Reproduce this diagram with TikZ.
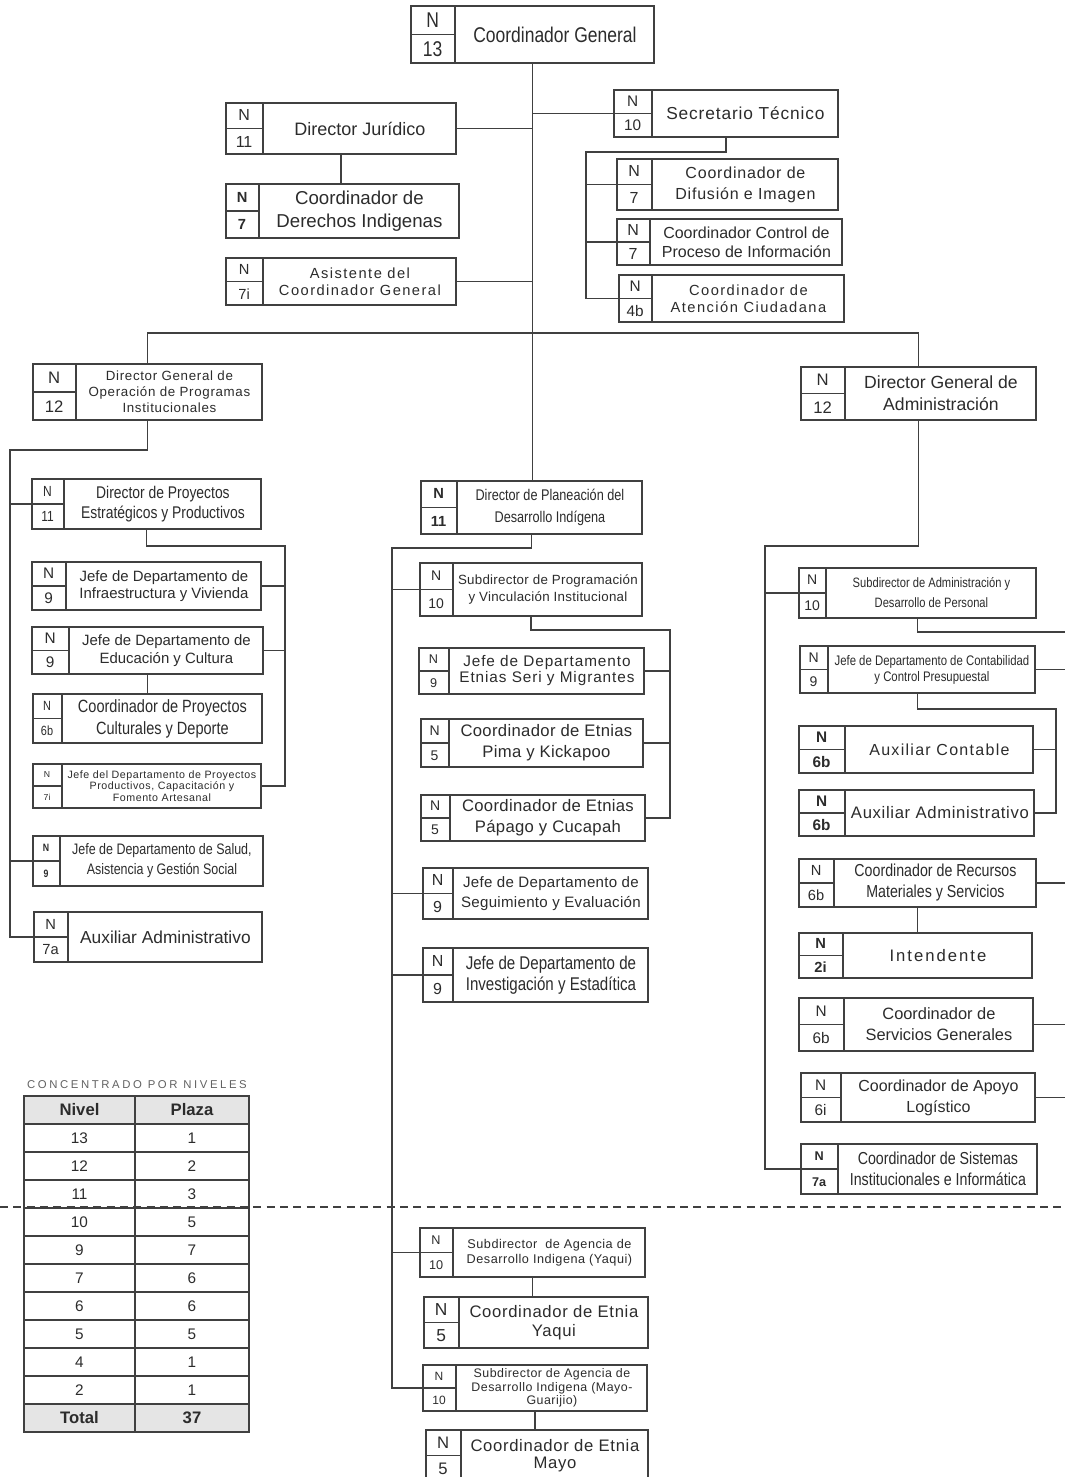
\documentclass[tikz,border=0pt]{standalone}
\usepackage{fontspec}
\setmainfont{Liberation Sans}
\newfontfamily\estrecha[FakeStretch=0.82]{Liberation Sans}
\usetikzlibrary{fit,calc}
\definecolor{linea}{HTML}{404040}
\definecolor{texto}{HTML}{2c2c2c}
\newcommand\fs[2]{\fontsize{#1}{#2}\selectfont}
\newcommand\ls[1]{\addfontfeature{LetterSpace=#1}}
\newcommand\puesto[8]{%
\node[caja, fit={(#2)(#3)}] (#1) {};
\coordinate (#1-d) at (#4,0);
\draw[caja] (#1.north -| #1-d) -- (#1.south -| #1-d) (#1.west) -- (#1.west -| #1-d);
\node[rotulo, font={#6}] (#1-n) at ($(#1.north west)!.5!(#1.west -| #1-d)$) {N};
\node[rotulo, font={#6}] (#1-l) at ($(#1.west)!.5!(#1.south -| #1-d)$) {#5};
\node[rotulo, font={#7}] (#1-t) at ($(#1.north -| #1-d)!.5!(#1.south east)$) {#8};
}
\begin{document}
\begin{tikzpicture}[x=0.75pt,y=-0.75pt,
caja/.style={draw=linea,line width=1.3pt,inner sep=0pt},
trazo/.style={draw=linea,line width=1.2pt},
rotulo/.style={align=center,text=texto,inner sep=0pt}]
\useasboundingbox (0,0) rectangle (1065,1477);
\fill[white] (0,0) rectangle (1065,1477);
\puesto{cg}{411,6}{654,63}{455}{13}{\estrecha\fs{16}{16}}{\estrecha\fs{16}{18}}{Coordinador General}
\puesto{dj}{226,103}{456,154}{263}{11}{\fs{12}{12}}{\fs{13.5}{16}}{Director Jurídico}
\puesto{cdi}{226,184}{459,238}{259}{7}{\bfseries\fs{11}{11}}{\fs{14}{17}}{Coordinador de\\Derechos Indigenas}
\puesto{acg}{226,258}{456,305}{263}{7i}{\fs{11}{11}}{\fs{11}{12.75}\ls{10}}{Asistente del\\Coordinador General}
\puesto{st}{614,90}{838,137}{652}{10}{\fs{11.5}{11.5}}{\fs{13}{15}\ls{5}}{Secretario Técnico}
\puesto{cdif}{617,159}{838,210}{652}{7}{\fs{12}{12}}{\fs{12}{15.75}\ls{5}}{Coordinador de\\Difusión e Imagen}
\puesto{ccpi}{617,219}{842,265}{650}{7}{\fs{12}{12}}{\fs{12}{14}}{Coordinador Control de\\Proceso de Información}
\puesto{cac}{619,275}{844,322}{652}{4b}{\fs{11.5}{11.5}}{\fs{11}{12.75}\ls{10}}{Coordinador de\\Atención Ciudadana}
\puesto{dgop}{33,364}{262,420}{76}{12}{\fs{12.5}{12.5}}{\fs{10}{12}\ls{5}}{Director General de\\Operación de Programas\\Institucionales}
\puesto{dga}{801,367}{1036,420}{845}{12}{\fs{12.5}{12.5}}{\fs{13.2}{16.5}}{Director General de\\Administración}
\puesto{dpep}{32,479}{261,529}{64}{11}{\estrecha\fs{11}{11}}{\estrecha\fs{12.7}{15}}{Director de Proyectos\\Estratégicos y Productivos}
\puesto{jdiv}{32,562}{261,610}{66}{9}{\fs{11.5}{11.5}}{\fs{11.2}{12.75}}{Jefe de Departamento de\\Infraestructura y Vivienda}
\puesto{jdec}{32,627}{263,674}{69}{9}{\fs{11.5}{11.5}}{\fs{11.2}{14}}{Jefe de Departamento de\\Educación y Cultura}
\puesto{cpcd}{33,694}{262,743}{62}{6b}{\estrecha\fs{10}{10}}{\estrecha\fs{13.3}{16.5}}{Coordinador de Proyectos\\Culturales y Deporte}
\puesto{jdpp}{33,764}{261,808}{62}{7i}{\fs{6.5}{6.5}}{\fs{8}{8.6}\ls{5}}{Jefe del Departamento de Proyectos\\Productivos, Capacitación y\\Fomento Artesanal}
\puesto{jdsal}{33,836}{263,886}{60}{9}{\bfseries\estrecha\fs{8}{8}}{\estrecha\fs{11.4}{15}}{Jefe de Departamento de Salud,\\Asistencia y Gestión Social}
\puesto{aux1}{34,912}{262,962}{68}{7a}{\fs{11}{11}}{\fs{13}{15}}{Auxiliar Administrativo}
\puesto{dpdi}{421,481}{642,534}{457}{11}{\bfseries\fs{11}{11}}{\estrecha\fs{11.6}{16.5}}{Director de Planeación del\\Desarrollo Indígena}
\puesto{spvi}{420,563}{642,616}{453}{10}{\fs{10.5}{10.5}}{\fs{10}{12.75}\ls{2}}{Subdirector de Programación\\y Vinculación Institucional}
\puesto{jdes}{419,648}{644,694}{449}{9}{\fs{9.5}{9.5}}{\fs{11.5}{12}\ls{6}}{Jefe de Departamento\\Etnias Seri y Migrantes}
\puesto{cepk}{421,719}{643,767}{449}{5}{\fs{10.5}{10.5}}{\fs{12.5}{15.75}\ls{2}}{Coordinador de Etnias\\Pima y Kickapoo}
\puesto{cepc}{421,795}{645,841}{450}{5}{\fs{10.5}{10.5}}{\fs{12.5}{15.75}\ls{2}}{Coordinador de Etnias\\Pápago y Cucapah}
\puesto{jdse}{423,868}{648,919}{453}{9}{\fs{12}{12}}{\fs{11.3}{15}\ls{2}}{Jefe de Departamento de\\Seguimiento y Evaluación}
\puesto{jdie}{423,948}{648,1002}{453}{9}{\fs{12}{12}}{\estrecha\fs{13.8}{15.75}}{Jefe de Departamento de\\Investigación y Estadítica}
\puesto{sady}{420,1228}{645,1277}{453}{10}{\fs{9.5}{9.5}}{\fs{9.5}{11.25}\ls{4}}{Subdirector\ \ de Agencia de\\Desarrollo Indigena (Yaqui)}
\puesto{cey}{424,1297}{648,1348}{459}{5}{\fs{13}{13}}{\fs{12.5}{14.25}\ls{4}}{Coordinador de Etnia\\Yaqui}
\puesto{sadm}{423,1365}{647,1411}{456}{10}{\fs{9}{9}}{\fs{9.3}{10}\ls{4}}{Subdirector de Agencia de\\Desarrollo Indigena (Mayo-\\Guarijio)}
\puesto{cem}{426,1430}{648,1481}{461}{5}{\fs{12.5}{12.5}}{\fs{12.5}{12.75}\ls{4}}{Coordinador de Etnia\\Mayo}
\puesto{sadp}{799,568}{1036,618}{826}{10}{\fs{10.5}{10.5}}{\estrecha\fs{10.2}{15}}{Subdirector de Administración y\\Desarrollo de Personal}
\puesto{jdccp}{800,646}{1035,693}{828}{9}{\fs{10.5}{10.5}}{\estrecha\fs{10.4}{12}}{Jefe de Departamento de Contabilidad\\y Control Presupuestal}
\puesto{auxc}{799,726}{1033,773}{845}{6b}{\bfseries\fs{11.5}{11.5}}{\fs{12}{14}\ls{8}}{Auxiliar Contable}
\puesto{auxa}{799,790}{1034,836}{845}{6b}{\bfseries\fs{11.5}{11.5}}{\fs{12.5}{14}\ls{4}}{Auxiliar Administrativo}
\puesto{crms}{799,859}{1036,907}{834}{6b}{\fs{11}{11}}{\estrecha\fs{13}{15.75}}{Coordinador de Recursos\\Materiales y Servicios}
\puesto{int}{799,933}{1032,978}{843}{2i}{\bfseries\fs{11}{11}}{\fs{12.5}{14}\ls{12}}{Intendente}
\puesto{csg}{799,998}{1033,1051}{844}{6b}{\fs{11.5}{11.5}}{\fs{12.3}{15.75}}{Coordinador de\\Servicios Generales}
\puesto{cal}{801,1073}{1035,1122}{841}{6i}{\fs{11.5}{11.5}}{\fs{12}{15.75}}{Coordinador de Apoyo\\Logístico}
\puesto{csii}{801,1144}{1037,1194}{838}{7a}{\bfseries\fs{9.5}{9.5}}{\estrecha\fs{13}{15.75}}{Coordinador de Sistemas\\Institucionales e Informática}
\draw[trazo] (cg.south) -- (cg.south |- dpdi.north);
\draw[trazo] (dj.east) -- (dj.east -| cg.south);
\draw[trazo] (acg.east) -- (acg.east -| cg.south);
\draw[trazo] (st.west) -- (st.west -| cg.south);
\draw[trazo] (dj.south) -- (dj.south |- cdi.north);
\coordinate (stbus) at (586,152);
\draw[trazo] (st.south) |- (stbus) |- (cac.west);
\draw[trazo] (stbus |- cdif.west) -- (cdif.west);
\draw[trazo] (stbus |- ccpi.west) -- (ccpi.west);
\coordinate (barra) at (534,333);
\draw[trazo] (dgop.north) |- (barra) -| (dga.north);
\coordinate (opbus) at (10,450);
\draw[trazo] (dgop.south) |- (opbus) |- (aux1.west);
\draw[trazo] (opbus |- dpep.west) -- (dpep.west);
\draw[trazo] (opbus |- jdsal.west) -- (jdsal.west);
\coordinate (pebus) at (285,546);
\draw[trazo] (dpep.south) |- (pebus) |- (jdpp.east);
\draw[trazo] (pebus |- jdiv.east) -- (jdiv.east);
\draw[trazo] (pebus |- jdec.east) -- (jdec.east);
\draw[trazo] (jdec.south) -- (jdec.south |- cpcd.north);
\coordinate (plbus) at (392,548);
\draw[trazo] (dpdi.south) |- (plbus) |- (sadm.west);
\foreach \p in {spvi,jdse,jdie,sady} \draw[trazo] (plbus |- \p.west) -- (\p.west);
\coordinate (pvbus) at (670,630);
\draw[trazo] (spvi.south) |- (pvbus) |- (cepc.east);
\foreach \p in {jdes,cepk} \draw[trazo] (pvbus |- \p.east) -- (\p.east);
\draw[trazo] (sady.south) -- (sady.south |- cey.north);
\draw[trazo] (sadm.south) -- (sadm.south |- cem.north);
\coordinate (adbus) at (765,546);
\draw[trazo] (dga.south) |- (adbus) |- (csii.west);
\draw[trazo] (adbus |- sadp.west) -- (sadp.west);
\coordinate (borde) at (1065,632);
\draw[trazo] (sadp.south) |- (borde);
\foreach \p in {jdccp,crms,csg,cal} \draw[trazo] (\p.east) -- (\p.east -| borde);
\coordinate (ctbus) at (1056,709);
\draw[trazo] (jdccp.south) |- (ctbus) |- (auxa.east);
\draw[trazo] (ctbus |- auxc.east) -- (auxc.east);
\draw[trazo] (crms.south) -- (crms.south |- int.north);
\coordinate (corteI) at (0,1207);
\coordinate (corteD) at (1065,1207);
\draw[trazo, dash pattern=on 6pt off 4pt] (corteI) -- (corteD);
\node[rotulo, font={\fs{8.5}{8.5}\ls{23}}, text=texto!75] (titulo) at (137,1085) {CONCENTRADO POR NIVELES};
\fill[black!10] (24,1096) rectangle (249,1124);
\fill[black!10] (24,1404) rectangle (249,1432);
\foreach \y in {1124,1152,...,1404} \draw[trazo] (24,\y) -- (249,\y);
\draw[trazo] (135,1096) -- (135,1432);
\draw[caja] (24,1096) rectangle (249,1432);
\node[rotulo, font={\bfseries\fs{12.5}{12.5}}] (nivel) at (79.5,1110) {Nivel};
\node[rotulo, font={\bfseries\fs{12.5}{12.5}}] (plaza) at (192,1110) {Plaza};
\foreach \n/\p [count=\i] in {13/1,12/2,11/3,10/5,9/7,7/6,6/6,5/5,4/1,2/1}
\node[rotulo, font={\fs{11.5}{11.5}}] (niv\i) at (79.5,1110+28*\i) {\n}
node[rotulo, font={\fs{11.5}{11.5}}] (pla\i) at (192,1110+28*\i) {\p};
\node[rotulo, font={\bfseries\fs{12.5}{12.5}}] (total) at (79.5,1418) {Total};
\node[rotulo, font={\bfseries\fs{12.5}{12.5}}] (suma) at (192,1418) {37};
\end{tikzpicture}
\end{document}
